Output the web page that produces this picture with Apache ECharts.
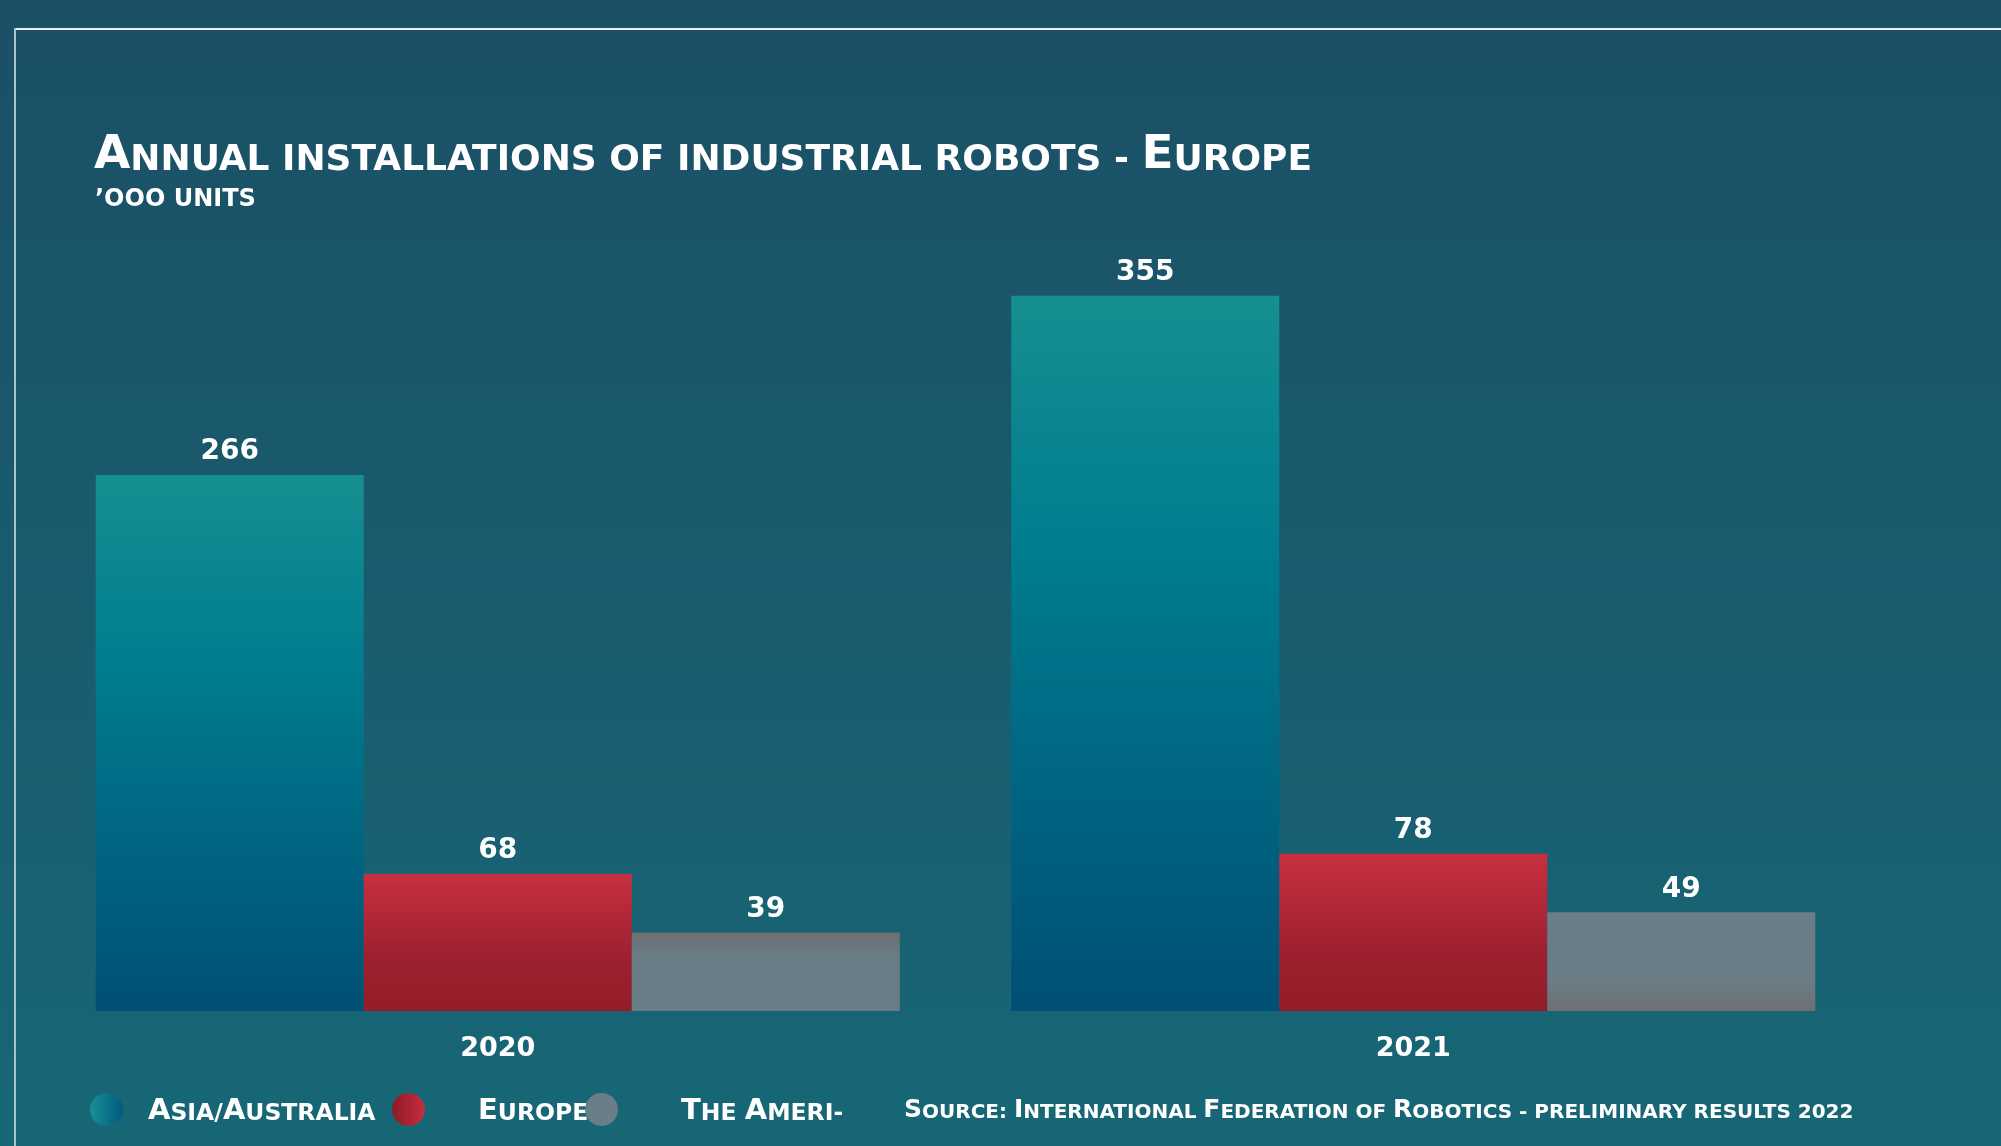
<!DOCTYPE html>
<html>
<head>
<meta charset="utf-8">
<script src="https://cdn.jsdelivr.net/npm/echarts@6/dist/echarts.min.js"></script>
<style>
html,body{margin:0;padding:0;background:#1a5a6d;}
#chart{width:2001px;height:1146px;}
</style>
</head>
<body>
<div id="chart"></div>
<script>
// ---- data ----
const years = ['2020', '2021'];
const seriesNames = ['Asia/Australia', 'Europe', 'The Americas'];
const asiaAustralia = [266, 355];
const europe = [68, 78];
const americas = [39, 49];
const legendLabels = ['Asia/Australia', 'Europe', 'The Ameri-'];
const titleText = 'Annual installations of industrial robots - Europe';
const subtitleText = '\u2019ooo units';
const sourceText = 'Source: International Federation of Robotics - preliminary results 2022';

// ---- helpers ----
const FONT = '"DejaVu Sans"';
const W = 'bold';
function smallCaps(str, bigKey, smallKey) {
  let out = '';
  let i = 0;
  while (i < str.length) {
    const ch = str[i];
    if (ch >= 'A' && ch <= 'Z') {
      out += '{' + bigKey + '|' + ch + '}';
      i++;
    } else {
      let run = '';
      while (i < str.length && !(str[i] >= 'A' && str[i] <= 'Z')) { run += str[i]; i++; }
      out += '{' + smallKey + '|' + run.toUpperCase() + '}';
    }
  }
  return out;
}
function capStyles(big, small) {
  return {
    b: {fontFamily: FONT, fontWeight: W, fontSize: big, lineHeight: big, color: '#ffffff', verticalAlign: 'bottom'},
    s: {fontFamily: FONT, fontWeight: W, fontSize: small, lineHeight: big, color: '#ffffff', verticalAlign: 'bottom'}
  };
}
function lg(x0, y0, x1, y1, stops) {
  return {type: 'linear', x: x0, y: y0, x2: x1, y2: y1,
    colorStops: stops.map(s => ({offset: s[0], color: s[1]}))};
}

const asiaGrad = lg(0, 0, 0, 1, [[0, '#168f91'], [0.35, '#007d8f'], [1, '#004f74']]);
const europeGrad = lg(0, 0, 0, 1, [[0, '#c82f40'], [0.6, '#9d2130'], [1, '#931d29']]);
const amerGradTop = lg(0, 0, 0, 1, [[0, '#6d6f71'], [0.3, '#6a7c86'], [1, '#6a7e88']]);
const amerGradBottom = lg(0, 0, 0, 1, [[0, '#6a7e88'], [0.7, '#6a7c86'], [1, '#6f7072']]);

const labelStyle = {
  show: true, position: 'top', distance: 9,
  color: '#ffffff', fontFamily: FONT, fontWeight: W, fontSize: 28
};

function legendDef(idx, left, textPad, iconColor) {
  return {
    left: left, top: 1093, orient: 'horizontal', padding: 0,
    itemWidth: 33, itemHeight: 33, icon: 'circle',
    selectedMode: false,
    data: [{name: seriesNames[idx], itemStyle: {color: iconColor}}],
    formatter: () => smallCaps(legendLabels[idx], 'b', 's'),
    textStyle: {padding: [4, 0, 0, textPad], color: '#fff', rich: capStyles(29, 23.5)}
  };
}

const chart = echarts.init(document.getElementById('chart'), null, {renderer: 'canvas'});
chart.setOption({
  animation: false,
  backgroundColor: lg(0, 0, 0, 1, [[0, '#1b4f65'], [1, '#176776']]),
  title: [
    {text: smallCaps(titleText, 'b', 's'), left: 94, top: 132, padding: 0,
     textStyle: {rich: capStyles(47, 36)}},
    {text: '{s|' + subtitleText.toUpperCase() + '}', left: 95, top: 184, padding: 0,
     textStyle: {rich: {s: {fontFamily: FONT, fontWeight: W, fontSize: 24, lineHeight: 28, color: '#fff', verticalAlign: 'bottom'}}}},
    {text: smallCaps(sourceText, 'b', 's'), left: 904, top: 1098, padding: 0,
     textStyle: {rich: capStyles(25, 20)}}
  ],
  legend: [
    legendDef(0, 90, 20, lg(0, 0, 1, 0, [[0, '#169096'], [1, '#025a80']])),
    legendDef(1, 392, 48, lg(0, 0, 1, 0, [[0, '#8c1b27'], [1, '#c62e3d']])),
    legendDef(2, 585, 58, '#6a7e88')
  ],
  grid: {left: 40, right: 130, top: 205, bottom: 135, containLabel: false},
  xAxis: {
    type: 'category', data: years,
    axisLine: {show: false}, axisTick: {show: false},
    axisLabel: {color: '#fff', fontFamily: FONT, fontWeight: W, fontSize: 27, margin: 24}
  },
  yAxis: {type: 'value', min: 0, max: 400, show: false, splitLine: {show: false}},
  graphic: [
    {type: 'line', shape: {x1: 14, y1: 29, x2: 2001, y2: 29}, style: {stroke: '#e6eff1', lineWidth: 2}, silent: true},
    {type: 'line', shape: {x1: 15, y1: 28, x2: 15, y2: 1146}, style: {stroke: '#a9c4ca', lineWidth: 2}, silent: true}
  ],
  series: [
    {name: seriesNames[0], type: 'bar', barWidth: 268, barGap: '0%',
     itemStyle: {color: asiaGrad}, label: labelStyle, data: asiaAustralia},
    {name: seriesNames[1], type: 'bar', barWidth: 268, barGap: '0%',
     itemStyle: {color: europeGrad}, label: labelStyle, data: europe},
    {name: seriesNames[2], type: 'bar', barWidth: 268, barGap: '0%',
     itemStyle: {color: amerGradTop}, label: labelStyle,
     data: americas.map((v, i) => ({value: v, itemStyle: {color: i === 0 ? amerGradTop : amerGradBottom}}))}
  ]
});
</script>
</body>
</html>
